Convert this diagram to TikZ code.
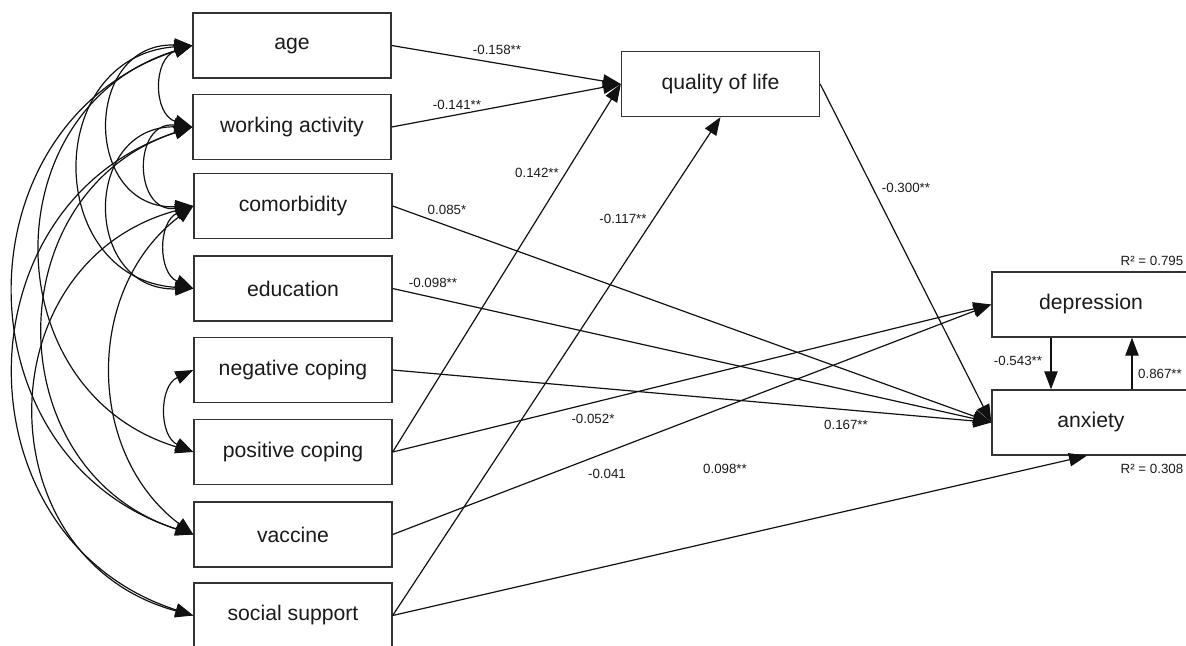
\documentclass[tikz,border=0pt]{standalone}
\usepackage{fontspec}
\setmainfont{Liberation Sans}
\usetikzlibrary{arrows.meta}
\definecolor{linec}{HTML}{111111}
\definecolor{boxgray}{HTML}{333333}
\definecolor{txt}{HTML}{1A1A1A}
\begin{document}
\begin{tikzpicture}[x=0.75pt,y=0.75pt,
  box/.style={draw=boxgray, line width=1pt, minimum width=148.5pt, minimum height=48.75pt, inner sep=0pt, font=\fontsize{15.9}{19}\selectfont, text=txt},
  lbl/.style={font=\fontsize{10}{12}\selectfont, text=txt, inner sep=0pt},
  arr/.style={draw=linec, line width=0.9pt, -{Triangle[length=13.5pt,width=10pt]}},
  cov/.style={draw=linec, line width=0.9pt, {Triangle[length=13.5pt,width=10pt]}-{Triangle[length=13.5pt,width=10pt]}}
]
\useasboundingbox (0,0) rectangle (1186,-646);
\clip (0,0) rectangle (1186,-646);
% boxes
\node[box] (age) at (292,-45.5) {age};
\node[box] (wa)  at (292,-127) {working activity};
\node[box] (com) at (293,-206) {comorbidity};
\node[box] (edu) at (293,-288.5) {education};
\node[box] (neg) at (293,-370) {negative coping};
\node[box] (pos) at (293,-452) {positive coping};
\node[box] (vac) at (293,-534.5) {vaccine};
\node[box] (ss)  at (293,-615.5) {social support};
\node[box] (qol) at (720.5,-84) {quality of life};
\node[box] (dep) at (1091,-304.5) {depression};
\node[box] (anx) at (1091,-422.5) {anxiety};
% paths
\draw[arr] (age.east) -- (qol.west);
\draw[arr] (wa.east) -- (qol.west);
\draw[arr] (pos.east) -- (qol.west);
\draw[arr] (ss.east) -- (qol.south);
\draw[arr] (qol.east) -- (anx.west);
\draw[arr] (com.east) -- (anx.west);
\draw[arr] (edu.east) -- (anx.west);
\draw[arr] (neg.east) -- (anx.west);
\draw[arr] (pos.east) -- (dep.west);
\draw[arr] (vac.east) -- (dep.west);
\draw[arr] (ss.east) -- ([xshift=-3pt]anx.south);
\draw[arr] ([xshift=-30pt]dep.south) -- ([xshift=-30pt]anx.north);
\draw[arr] ([xshift=30.75pt]anx.north) -- ([xshift=30.75pt]dep.south);
% covariances
\draw[cov] (age.west) to[bend right=72, looseness=1.31] (wa.west);
\draw[cov] (wa.west)  to[bend right=97, looseness=1.96] (com.west);
\draw[cov] (com.west) to[bend right=66, looseness=1.21] (edu.west);
\draw[cov] (neg.west) to[bend right=65, looseness=1.19] (pos.west);
\draw[cov] (age.west) to[bend right=92, looseness=1.76] (com.west);
\draw[cov] (age.west) to[bend right=86, looseness=1.58] (edu.west);
\draw[cov] (wa.west)  to[bend right=91, looseness=1.75] (edu.west);
\draw[cov] (age.west) to[bend right=73, looseness=1.32] (pos.west);
\draw[cov] (age.west) to[bend right=72, looseness=1.30] (vac.west);
\draw[cov] (wa.west)  to[bend right=72, looseness=1.30] (vac.west);
\draw[cov] (com.west) to[bend right=53, looseness=1.06] (vac.west);
\draw[cov] (wa.west)  to[bend right=72, looseness=1.30] (ss.west);
\draw[cov] (com.west) to[bend right=75, looseness=1.36] (ss.west);
% labels
\node[lbl] (l1) at (497,-50) {-0.158**};
\node[lbl] (l2) at (457,-105) {-0.141**};
\node[lbl] (l3) at (537,-173) {0.142**};
\node[lbl] (l4) at (447,-210) {0.085*};
\node[lbl] (l5) at (433,-283) {-0.098**};
\node[lbl] (l6) at (623,-219) {-0.117**};
\node[lbl] (l7) at (906,-188) {-0.300**};
\node[lbl] (l8) at (593,-419) {-0.052*};
\node[lbl] (l9) at (846,-425) {0.167**};
\node[lbl] (l10) at (607,-474) {-0.041};
\node[lbl] (l11) at (725,-469) {0.098**};
\node[lbl] (l12) at (1018,-361) {-0.543**};
\node[lbl] (l13) at (1160,-374) {0.867**};
\node[lbl] (r1) at (1152,-261) {R² = 0.795};
\node[lbl] (r2) at (1152,-469) {R² = 0.308};
\end{tikzpicture}
\end{document}
